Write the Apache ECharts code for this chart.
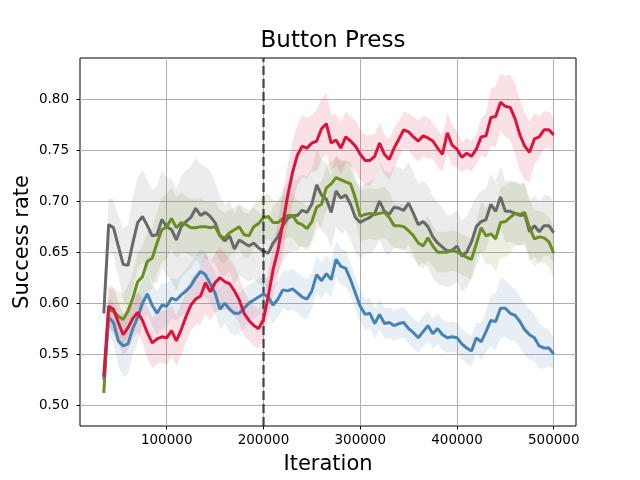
<!DOCTYPE html>
<html>
<head>
<meta charset="utf-8">
<script src="https://cdn.jsdelivr.net/npm/echarts@6/dist/echarts.min.js"></script>
<style>
  html, body { margin: 0; padding: 0; background: #fff; }
  #main { width: 640px; height: 480px; }
</style>
</head>
<body>
<div id="main"></div>
<script>
// iteration grid (5000 step)
var iterations = [];
for (var it = 35000; it <= 500000; it += 5000) iterations.push(it);

var xTicks = [100000, 200000, 300000, 400000, 500000];
var yTicks = [0.50, 0.55, 0.60, 0.65, 0.70, 0.75, 0.80];

// mean success rate of each run
var grayMean = [
  0.590, 0.677, 0.674, 0.656, 0.638, 0.637, 0.659, 0.679, 0.685, 0.676, 0.666, 0.667, 0.682, 0.675, 0.672, 0.662, 0.675, 0.680, 0.684,
  0.693, 0.686, 0.689, 0.685, 0.679, 0.666, 0.661, 0.666, 0.653, 0.662, 0.659, 0.656, 0.659, 0.654, 0.651, 0.649, 0.659,
  0.665, 0.676, 0.683, 0.686, 0.686, 0.691, 0.689, 0.697, 0.716, 0.706, 0.702, 0.689, 0.710, 0.703, 0.706, 0.697, 0.684, 0.679,
  0.682, 0.684, 0.688, 0.700, 0.690, 0.687, 0.694, 0.693, 0.691, 0.698, 0.688, 0.677, 0.680, 0.675, 0.665, 0.659, 0.655, 0.651, 0.652,
  0.656, 0.646, 0.650, 0.660, 0.675, 0.680, 0.682, 0.697, 0.690, 0.704, 0.690, 0.690, 0.688, 0.686, 0.687, 0.670, 0.676, 0.670, 0.676, 0.676, 0.669
];
var greenMean = [
  0.512, 0.594, 0.592, 0.587, 0.584, 0.592, 0.605, 0.621, 0.626, 0.641, 0.644, 0.659, 0.672, 0.675, 0.683, 0.674, 0.679, 0.677, 0.674,
  0.674, 0.675, 0.675, 0.674, 0.675, 0.666, 0.664, 0.669, 0.672, 0.675, 0.667, 0.666, 0.675, 0.678, 0.684, 0.685, 0.679,
  0.679, 0.683, 0.686, 0.686, 0.679, 0.677, 0.673, 0.680, 0.694, 0.697, 0.713, 0.717, 0.723, 0.721, 0.719, 0.717, 0.703, 0.685,
  0.687, 0.688, 0.687, 0.688, 0.689, 0.684, 0.676, 0.676, 0.675, 0.671, 0.666, 0.659, 0.656, 0.664, 0.656, 0.650, 0.650, 0.650, 0.652,
  0.650, 0.648, 0.645, 0.643, 0.658, 0.674, 0.666, 0.668, 0.663, 0.679, 0.680, 0.684, 0.688, 0.687, 0.689, 0.674, 0.663, 0.665, 0.664, 0.660, 0.649
];
var redMean = [
  0.528, 0.597, 0.594, 0.581, 0.569, 0.576, 0.585, 0.591, 0.583, 0.571, 0.561, 0.565, 0.567, 0.566, 0.573, 0.563, 0.574, 0.587, 0.598,
  0.604, 0.607, 0.620, 0.611, 0.620, 0.625, 0.621, 0.619, 0.612, 0.603, 0.590, 0.583, 0.578, 0.575, 0.584, 0.607, 0.633,
  0.652, 0.678, 0.705, 0.728, 0.745, 0.754, 0.752, 0.757, 0.759, 0.771, 0.776, 0.757, 0.760, 0.752, 0.763, 0.759, 0.754, 0.746,
  0.740, 0.740, 0.744, 0.757, 0.746, 0.741, 0.752, 0.761, 0.770, 0.768, 0.763, 0.759, 0.764, 0.762, 0.759, 0.752, 0.746, 0.767, 0.755,
  0.751, 0.743, 0.747, 0.744, 0.751, 0.763, 0.764, 0.782, 0.783, 0.797, 0.793, 0.792, 0.781, 0.765, 0.754, 0.748, 0.761, 0.763, 0.770, 0.770, 0.765
];
var blueMean = [
  0.525, 0.586, 0.581, 0.563, 0.558, 0.560, 0.575, 0.586, 0.600, 0.609, 0.598, 0.590, 0.598, 0.597, 0.605, 0.603, 0.608, 0.612, 0.617,
  0.625, 0.631, 0.628, 0.619, 0.610, 0.594, 0.600, 0.594, 0.590, 0.590, 0.595, 0.600, 0.603, 0.606, 0.609, 0.606, 0.598,
  0.604, 0.613, 0.612, 0.614, 0.610, 0.606, 0.604, 0.612, 0.628, 0.622, 0.629, 0.623, 0.643, 0.636, 0.634, 0.623, 0.610, 0.597,
  0.589, 0.590, 0.580, 0.589, 0.580, 0.581, 0.578, 0.580, 0.581, 0.575, 0.571, 0.566, 0.572, 0.578, 0.570, 0.575, 0.569, 0.566, 0.567,
  0.566, 0.560, 0.556, 0.553, 0.566, 0.562, 0.572, 0.583, 0.582, 0.595, 0.595, 0.590, 0.588, 0.582, 0.574, 0.569, 0.566, 0.558, 0.556, 0.556, 0.550
];

// half width of the shaded band
var graySpread = [
  0.020, 0.025, 0.028, 0.030, 0.035, 0.040, 0.045, 0.045, 0.045, 0.045, 0.045, 0.048, 0.048, 0.048, 0.050, 0.050, 0.050, 0.050, 0.050,
  0.050, 0.050, 0.045, 0.045, 0.040, 0.038, 0.035, 0.035, 0.035, 0.035, 0.035, 0.035, 0.035, 0.035, 0.035, 0.035, 0.035,
  0.035, 0.035, 0.035, 0.035, 0.035, 0.035, 0.035, 0.035, 0.035, 0.035, 0.035, 0.035, 0.035, 0.035, 0.035, 0.035, 0.035, 0.035,
  0.035, 0.035, 0.035, 0.038, 0.040, 0.040, 0.040, 0.040, 0.040, 0.040, 0.040, 0.040, 0.040, 0.040, 0.040, 0.040, 0.038, 0.035, 0.035,
  0.035, 0.035, 0.035, 0.035, 0.030, 0.030, 0.030, 0.030, 0.030, 0.030, 0.030, 0.030, 0.030, 0.030, 0.030, 0.030, 0.030, 0.030, 0.030, 0.030, 0.030
];
var greenSpread = [
  0.010, 0.020, 0.022, 0.025, 0.025, 0.025, 0.025, 0.028, 0.030, 0.030, 0.030, 0.030, 0.032, 0.032, 0.030, 0.030, 0.030, 0.028, 0.028,
  0.028, 0.028, 0.025, 0.025, 0.025, 0.025, 0.025, 0.022, 0.022, 0.022, 0.022, 0.022, 0.022, 0.022, 0.022, 0.022, 0.022,
  0.022, 0.022, 0.022, 0.022, 0.022, 0.022, 0.022, 0.022, 0.022, 0.022, 0.022, 0.022, 0.020, 0.020, 0.020, 0.022, 0.022, 0.025,
  0.025, 0.025, 0.025, 0.025, 0.025, 0.025, 0.022, 0.022, 0.022, 0.022, 0.022, 0.022, 0.022, 0.022, 0.020, 0.020, 0.020, 0.020, 0.020,
  0.020, 0.020, 0.020, 0.020, 0.022, 0.025, 0.028, 0.030, 0.032, 0.035, 0.035, 0.035, 0.032, 0.030, 0.030, 0.028, 0.028, 0.025, 0.025, 0.025, 0.025
];
var redSpread = [
  0.012, 0.020, 0.022, 0.020, 0.020, 0.022, 0.020, 0.020, 0.022, 0.025, 0.025, 0.025, 0.025, 0.027, 0.025, 0.025, 0.025, 0.025, 0.025,
  0.025, 0.028, 0.030, 0.028, 0.030, 0.030, 0.028, 0.025, 0.025, 0.022, 0.022, 0.020, 0.020, 0.020, 0.020, 0.022, 0.025,
  0.028, 0.030, 0.030, 0.030, 0.030, 0.030, 0.030, 0.028, 0.030, 0.030, 0.030, 0.028, 0.025, 0.025, 0.025, 0.025, 0.025, 0.025,
  0.025, 0.025, 0.022, 0.020, 0.020, 0.020, 0.020, 0.018, 0.018, 0.018, 0.020, 0.020, 0.020, 0.020, 0.018, 0.018, 0.018, 0.020, 0.020,
  0.018, 0.015, 0.015, 0.015, 0.015, 0.018, 0.022, 0.028, 0.030, 0.028, 0.030, 0.032, 0.035, 0.035, 0.033, 0.030, 0.025, 0.020, 0.018, 0.018, 0.018
];
var blueSpread = [
  0.010, 0.018, 0.020, 0.025, 0.030, 0.030, 0.025, 0.025, 0.022, 0.020, 0.020, 0.022, 0.022, 0.022, 0.020, 0.020, 0.020, 0.022, 0.022,
  0.022, 0.022, 0.022, 0.020, 0.020, 0.020, 0.020, 0.022, 0.022, 0.020, 0.020, 0.018, 0.018, 0.018, 0.018, 0.018, 0.018,
  0.018, 0.018, 0.020, 0.020, 0.020, 0.020, 0.020, 0.018, 0.018, 0.018, 0.018, 0.018, 0.018, 0.018, 0.018, 0.016, 0.016, 0.016,
  0.015, 0.015, 0.015, 0.015, 0.015, 0.015, 0.015, 0.015, 0.015, 0.015, 0.015, 0.015, 0.015, 0.015, 0.015, 0.015, 0.015, 0.015, 0.015,
  0.015, 0.015, 0.015, 0.015, 0.015, 0.018, 0.020, 0.025, 0.028, 0.030, 0.028, 0.027, 0.025, 0.025, 0.025, 0.025, 0.023, 0.022, 0.020, 0.018, 0.015
];

var runs = [
  { name: 'gray',  mean: grayMean,  spread: graySpread,  color: '#696969', band: 'rgba(105,105,105,0.13)' },
  { name: 'green', mean: greenMean, spread: greenSpread, color: '#6B8E23', band: 'rgba(107,142,35,0.13)' },
  { name: 'blue',  mean: blueMean,  spread: blueSpread,  color: '#4682B4', band: 'rgba(70,130,180,0.13)' },
  { name: 'red',   mean: redMean,   spread: redSpread,   color: '#DC143C', band: 'rgba(220,20,60,0.13)' }
];

var font = 'DejaVu Sans';
var series = [];

runs.forEach(function (r) {
  series.push({
    type: 'custom',
    name: r.name + ' band',
    silent: true,
    z: 1,
    data: [[iterations[0], r.mean[0]]],
    renderItem: function (params, api) {
      var upper = [], lower = [];
      for (var i = 0; i < iterations.length; i++) {
        upper.push(api.coord([iterations[i], r.mean[i] + r.spread[i]]));
        lower.unshift(api.coord([iterations[i], r.mean[i] - r.spread[i]]));
      }
      return {
        type: 'polygon',
        shape: { points: upper.concat(lower) },
        style: { fill: r.band, stroke: null }
      };
    }
  });
});

runs.forEach(function (r, k) {
  var s = {
    type: 'line',
    name: r.name,
    z: 3 + k,
    showSymbol: false,
    silent: true,
    data: iterations.map(function (x, i) { return [x, r.mean[i]]; }),
    lineStyle: { color: r.color, width: 3 },
    itemStyle: { color: r.color }
  };
  if (k === 0) {
    s.markLine = {
      silent: true,
      symbol: 'none',
      label: { show: false },
      lineStyle: { color: 'rgba(0,0,0,0.6)', width: 2.5, type: [9, 4] },
      data: [{ xAxis: 200000 }]
    };
  }
  series.push(s);
});

var chart = echarts.init(document.getElementById('main'));
chart.setOption({
  animation: false,
  backgroundColor: '#fff',
  title: {
    text: 'Button Press',
    left: 328,
    top: 25,
    textAlign: 'center',
    textStyle: { fontFamily: font, fontSize: 23, fontWeight: 'normal', color: '#000' }
  },
  grid: {
    left: 80, top: 58, width: 496, height: 369,
    show: true, borderColor: '#000', borderWidth: 1, backgroundColor: 'transparent'
  },
  xAxis: {
    type: 'value',
    min: 10400,
    max: 523000,
    name: 'Iteration',
    nameLocation: 'middle',
    nameGap: 28,
    nameTextStyle: { fontFamily: font, fontSize: 21, color: '#000' },
    axisLine: { show: false },
    axisTick: { show: true, length: 3.5, customValues: xTicks, lineStyle: { color: '#000' } },
    axisLabel: {
      customValues: xTicks, margin: 7, fontFamily: font, fontSize: 13.5, color: '#000',
      formatter: function (v) { return String(v); }
    },
    splitLine: { show: true, lineStyle: { color: '#b0b0b0', width: 1 } }
  },
  yAxis: {
    type: 'value',
    min: 0.4795,
    max: 0.8404,
    name: 'Success rate',
    nameLocation: 'middle',
    nameGap: 47,
    nameMoveOverlap: false,
    nameTextStyle: { fontFamily: font, fontSize: 21, color: '#000' },
    axisLine: { show: false },
    axisTick: { show: true, length: 3.5, customValues: yTicks, lineStyle: { color: '#000' } },
    axisLabel: {
      customValues: yTicks, margin: 11, fontFamily: font, fontSize: 13.5, color: '#000',
      formatter: function (v) { return v.toFixed(2); }
    },
    splitLine: { show: true, lineStyle: { color: '#b0b0b0', width: 1 } }
  },
  series: series
});
</script>
</body>
</html>
